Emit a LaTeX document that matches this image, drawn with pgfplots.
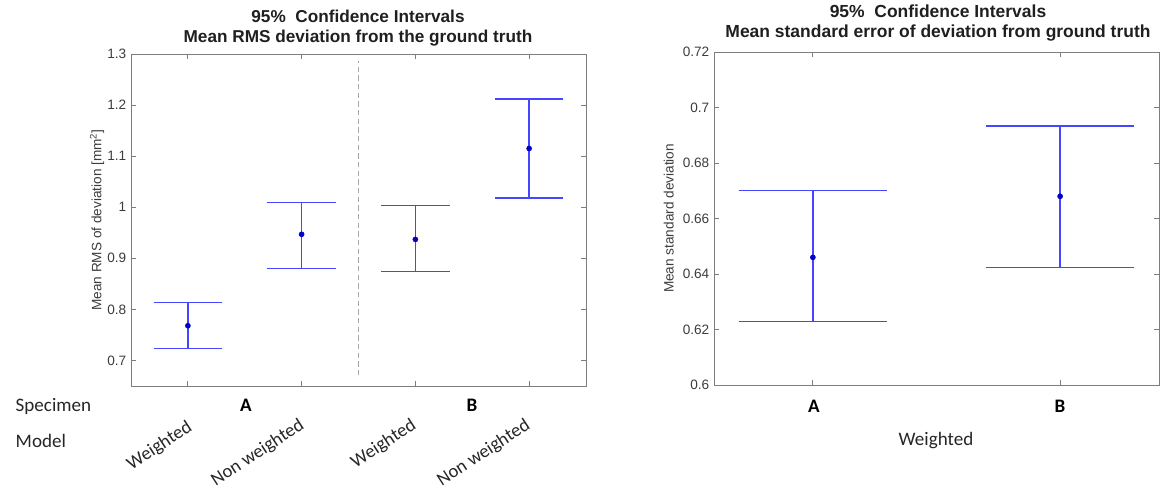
\documentclass[border=0pt]{standalone}
\usepackage{fontspec}
\setmainfont{Liberation Sans}
\newfontfamily\cali{Carlito}
\usepackage{pgfplots}
\usepackage{pgfplotstable}
\pgfplotsset{compat=1.18}

\definecolor{ebar}{RGB}{70,70,255}
\definecolor{dotc}{RGB}{0,0,205}
\definecolor{axc}{RGB}{125,125,125}
\definecolor{txc}{RGB}{60,60,60}

% mean, upper and lower distance of the 95% CI
\pgfplotstableread{
x y ep em
1 0.768 0.045 0.044
2 0.947 0.062 0.067
3 0.937 0.066 0.063
4 1.115 0.097 0.097
}\rmsdata

\pgfplotstableread{
x y ep em
1 0.646 0.0242 0.0232
2 0.668 0.0253 0.0257
}\sedata

\pgfplotsset{
  ciaxis/.style={
    scale only axis, anchor=south west, clip=false,
    axis line style={axc, line width=0.6pt},
    tick style={axc, line width=0.6pt},
    major tick length=3.5pt, tick align=inside,
    xticklabels={},
    yticklabel style={font=\fontsize{10.2}{12}\selectfont, color=txc},
    ylabel style={font=\fontsize{10.2}{12}\selectfont, color=txc},
  },
}

\begin{document}
\begin{tikzpicture}
\begin{scope}[x=0.75pt,y=-0.75pt]
  \path[use as bounding box] (0,0) rectangle (1161,495);
\end{scope}

\begin{axis}[ciaxis,
  at={(98.25pt,-289.5pt)}, width=341.25pt, height=249pt,
  xmin=0.5, xmax=4.5, ymin=0.65, ymax=1.3,
  xtick={1,2,3,4},
  ytick={0.7,0.8,0.9,1.0,1.1,1.2,1.3},
  yticklabels={0.7,0.8,0.9,1,1.1,1.2,1.3},
  ylabel shift=-4.5pt,
  ylabel={Mean RMS of deviation [mm\textsuperscript{2}]}]
  \addplot[gray!70, line width=0.6pt, dash pattern=on 4pt off 2.5pt]
    coordinates {(2.5,0.671) (2.5,1.287)};
  \addplot[only marks, mark=*, mark size=1.9pt, color=dotc,
    error bars/.cd, y dir=both, y explicit, error mark=|,
    error bar style={line width=1pt, draw=ebar, color=ebar, solid},
    error mark options={mark size=25.6pt, line width=1pt, draw=ebar, color=ebar}]
    table[x=x, y=y, y error plus=ep, y error minus=em] {\rmsdata};
\end{axis}

\begin{axis}[ciaxis,
  at={(535.5pt,-288.75pt)}, width=333.75pt, height=249.75pt,
  xmin=0.6, xmax=2.4, ymin=0.6, ymax=0.72,
  xtick={1,2},
  ytick={0.6,0.62,0.64,0.66,0.68,0.7,0.72},
  yticklabels={0.6,0.62,0.64,0.66,0.68,0.7,0.72},
  ylabel={Mean standard deviation}]
  \addplot[only marks, mark=*, mark size=1.9pt, color=dotc,
    error bars/.cd, y dir=both, y explicit, error mark=|,
    error bar style={line width=1pt, draw=ebar, color=ebar, solid},
    error mark options={mark size=55.6pt, line width=1pt, draw=ebar, color=ebar}]
    table[x=x, y=y, y error plus=ep, y error minus=em] {\sedata};
\end{axis}

\begin{scope}[x=0.75pt,y=-0.75pt]
  % titles
  \node[anchor=base, font=\fontsize{12.9}{15}\selectfont\bfseries, text=black!88] at (358,23) {95\%\ \ Confidence Intervals};
  \node[anchor=base, font=\fontsize{12.9}{15}\selectfont\bfseries, text=black!88] at (358,43) {Mean RMS deviation from the ground truth};
  \node[anchor=base, font=\fontsize{13.1}{15}\selectfont\bfseries, text=black!88] at (938,18) {95\%\ \ Confidence Intervals};
  \node[anchor=base, font=\fontsize{13.1}{15}\selectfont\bfseries, text=black!88] at (938,38) {Mean standard error of deviation from ground truth};
  % group labels, left chart
  \node[anchor=west, font=\cali\fontsize{14.3}{16}\selectfont, text=black!85] at (11,406) {Specimen};
  \node[anchor=west, font=\cali\fontsize{14.3}{16}\selectfont, text=black!85] at (11,441) {Model};
  \node[font=\cali\fontsize{14.3}{16}\selectfont\bfseries] at (246,405) {A};
  \node[font=\cali\fontsize{14.3}{16}\selectfont\bfseries] at (472,405) {B};
  \node[anchor=north east, inner sep=0pt, rotate=33, font=\cali\fontsize{14}{16}\selectfont, text=black!85] at (186,419) {Weighted};
  \node[anchor=north east, inner sep=0pt, rotate=33, font=\cali\fontsize{14}{16}\selectfont, text=black!85] at (298,417) {Non weighted};
  \node[anchor=north east, inner sep=0pt, rotate=33, font=\cali\fontsize{14}{16}\selectfont, text=black!85] at (410,417) {Weighted};
  \node[anchor=north east, inner sep=0pt, rotate=33, font=\cali\fontsize{14}{16}\selectfont, text=black!85] at (524,417) {Non weighted};
  % right chart
  \node[font=\cali\fontsize{14.3}{16}\selectfont\bfseries] at (814,406) {A};
  \node[font=\cali\fontsize{14.3}{16}\selectfont\bfseries] at (1060,406) {B};
  \node[font=\cali\fontsize{14.3}{16}\selectfont, text=black!85] at (936,441) {Weighted};
\end{scope}
\end{tikzpicture}
\end{document}
